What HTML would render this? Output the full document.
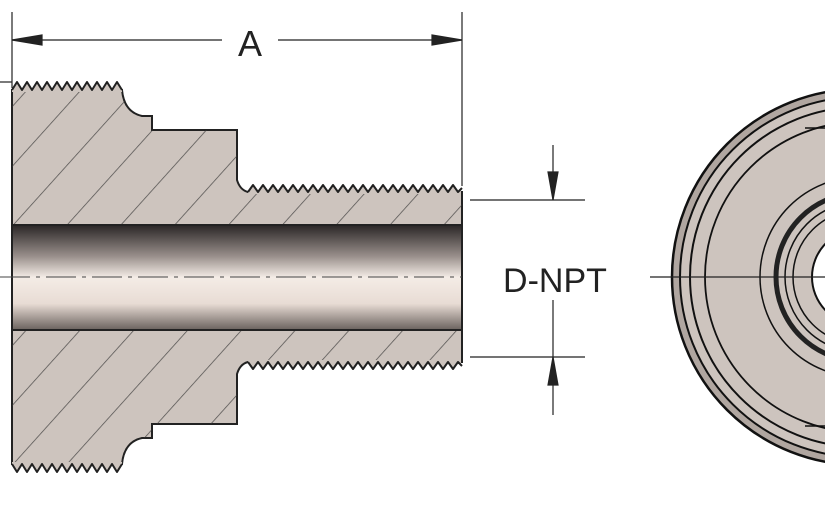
<!DOCTYPE html>
<html><head><style>body{margin:0;background:#fff}svg{display:block}</style></head><body>
<svg width="825" height="510" viewBox="0 0 825 510" xmlns="http://www.w3.org/2000/svg">
<defs>
<linearGradient id="bore" x1="0" y1="0" x2="0" y2="1">
<stop offset="0" stop-color="#2a2626"/><stop offset="0.3" stop-color="#9a908c"/><stop offset="0.5" stop-color="#f4ece6"/><stop offset="0.75" stop-color="#e8dcd4"/><stop offset="1" stop-color="#6a625e"/>
</linearGradient>
<clipPath id="body"><path d="M12,90 L122,90 Q124,112 142,116 L152,116 L152,130 L237,130 L237,180 Q240,190 248,192 L462,192 L462,362 L248,362 Q240,364 237,374 L237,424 L152,424 L152,438 L142,438 Q124,442 122,464 L12,464 Z"/></clipPath>
<pattern id="hatch" width="40" height="40" patternUnits="userSpaceOnUse" patternTransform="rotate(-48)"><line x1="0" y1="0" x2="40" y2="0" stroke="#333" stroke-width="1.6"/></pattern>
</defs>
<path d="M12,90 L122,90 Q124,112 142,116 L152,116 L152,130 L237,130 L237,180 Q240,190 248,192 L462,192 L462,362 L248,362 Q240,364 237,374 L237,424 L152,424 L152,438 L142,438 Q124,442 122,464 L12,464 Z" fill="#cdc4be" stroke="#222" stroke-width="2"/>
<rect x="12" y="80" width="450" height="400" fill="url(#hatch)" clip-path="url(#body)" opacity="0.8"/>
<g fill="#cdc4be" stroke="none">
<polygon points="12,92 12,90 17,82 22,90 27,82 32,90 37,82 42,90 47,82 52,90 57,82 62,90 67,82 72,90 77,82 82,90 87,82 92,90 97,82 102,90 107,82 112,90 117,82 122,90 122,92"/>
<polygon points="12,462 12,464 17,472 22,464 27,472 32,464 37,472 42,464 47,472 52,464 57,472 62,464 67,472 72,464 77,472 82,464 87,472 92,464 97,472 102,464 107,472 112,464 117,472 122,464 122,462"/>
<polygon points="248,194 248,192 253,185 258,192 263,185 268,192 273,185 278,192 283,185 288,192 293,185 298,192 303,185 308,192 313,185 318,192 323,185 328,192 333,185 338,192 343,185 348,192 353,185 358,192 363,185 368,192 373,185 378,192 383,185 388,192 393,185 398,192 403,185 408,192 413,185 418,192 423,185 428,192 433,185 438,192 443,185 448,192 453,185 458,192 461,188 461,194"/>
<polygon points="248,360 248,362 253,369 258,362 263,369 268,362 273,369 278,362 283,369 288,362 293,369 298,362 303,369 308,362 313,369 318,362 323,369 328,362 333,369 338,362 343,369 348,362 353,369 358,362 363,369 368,362 373,369 378,362 383,369 388,362 393,369 398,362 403,369 408,362 413,369 418,362 423,369 428,362 433,369 438,362 443,369 448,362 453,369 458,362 461,366 461,360"/>
</g>
<g fill="none" stroke="#222" stroke-width="2" stroke-linejoin="round">
<polyline points="12,90 17,82 22,90 27,82 32,90 37,82 42,90 47,82 52,90 57,82 62,90 67,82 72,90 77,82 82,90 87,82 92,90 97,82 102,90 107,82 112,90 117,82 122,90"/>
<polyline points="12,464 17,472 22,464 27,472 32,464 37,472 42,464 47,472 52,464 57,472 62,464 67,472 72,464 77,472 82,464 87,472 92,464 97,472 102,464 107,472 112,464 117,472 122,464"/>
<polyline points="248,192 253,185 258,192 263,185 268,192 273,185 278,192 283,185 288,192 293,185 298,192 303,185 308,192 313,185 318,192 323,185 328,192 333,185 338,192 343,185 348,192 353,185 358,192 363,185 368,192 373,185 378,192 383,185 388,192 393,185 398,192 403,185 408,192 413,185 418,192 423,185 428,192 433,185 438,192 443,185 448,192 453,185 458,192 462,188"/>
<polyline points="248,362 253,369 258,362 263,369 268,362 273,369 278,362 283,369 288,362 293,369 298,362 303,369 308,362 313,369 318,362 323,369 328,362 333,369 338,362 343,369 348,362 353,369 358,362 363,369 368,362 373,369 378,362 383,369 388,362 393,369 398,362 403,369 408,362 413,369 418,362 423,369 428,362 433,369 438,362 443,369 448,362 453,369 458,362 462,366"/>
</g>
<rect x="12" y="225" width="450" height="105" fill="url(#bore)" stroke="#222" stroke-width="2"/>
<line x1="0" y1="277" x2="462" y2="277" stroke="#444" stroke-width="1" stroke-dasharray="30,6,4,6"/>
<g stroke="#222" stroke-width="1.2" fill="#222">
<line x1="12" y1="12" x2="12" y2="88"/><line x1="462" y1="12" x2="462" y2="186"/>
<line x1="12" y1="40" x2="222" y2="40"/><line x1="278" y1="40" x2="462" y2="40"/>
<polygon points="12,40 42,35 42,45"/><polygon points="462,40 432,35 432,45"/>
<line x1="0" y1="82" x2="12" y2="82"/>
<line x1="470" y1="200" x2="585" y2="200"/><line x1="470" y1="357" x2="585" y2="357"/>
<line x1="553" y1="145" x2="553" y2="200"/><line x1="553" y1="300" x2="553" y2="415"/>
<polygon points="553,200 548,172 558,172"/><polygon points="553,357 548,385 558,385"/>
</g>
<text x="555" y="292" font-family="Liberation Sans, sans-serif" font-size="34" text-anchor="middle" fill="#222">D-NPT</text>
<text x="250" y="56" font-family="Liberation Sans, sans-serif" font-size="36" text-anchor="middle" fill="#222">A</text>
<g fill="none" stroke="#111">
<circle cx="860" cy="277" r="188" fill="#b0a6a0" stroke-width="2.5"/>
<circle cx="860" cy="277" r="180" fill="#cdc4be" stroke-width="2"/>
<circle cx="860" cy="277" r="170" stroke-width="2"/>
<circle cx="860" cy="277" r="155" stroke-width="1.8"/>
<circle cx="860" cy="277" r="100" stroke-width="1.5"/>
<circle cx="860" cy="277" r="84" stroke-width="5" stroke="#222"/>
<circle cx="860" cy="277" r="75" stroke-width="1.5"/>
<circle cx="860" cy="277" r="67" stroke-width="1.5"/>
<circle cx="860" cy="277" r="48" fill="#fff" stroke-width="2"/>
<line x1="805" y1="128" x2="825" y2="128" stroke-width="1.5"/>
<line x1="805" y1="426" x2="825" y2="426" stroke-width="1.5"/>
</g>
<line x1="650" y1="277" x2="825" y2="277" stroke="#222" stroke-width="1.2"/>
</svg>
</body></html>
